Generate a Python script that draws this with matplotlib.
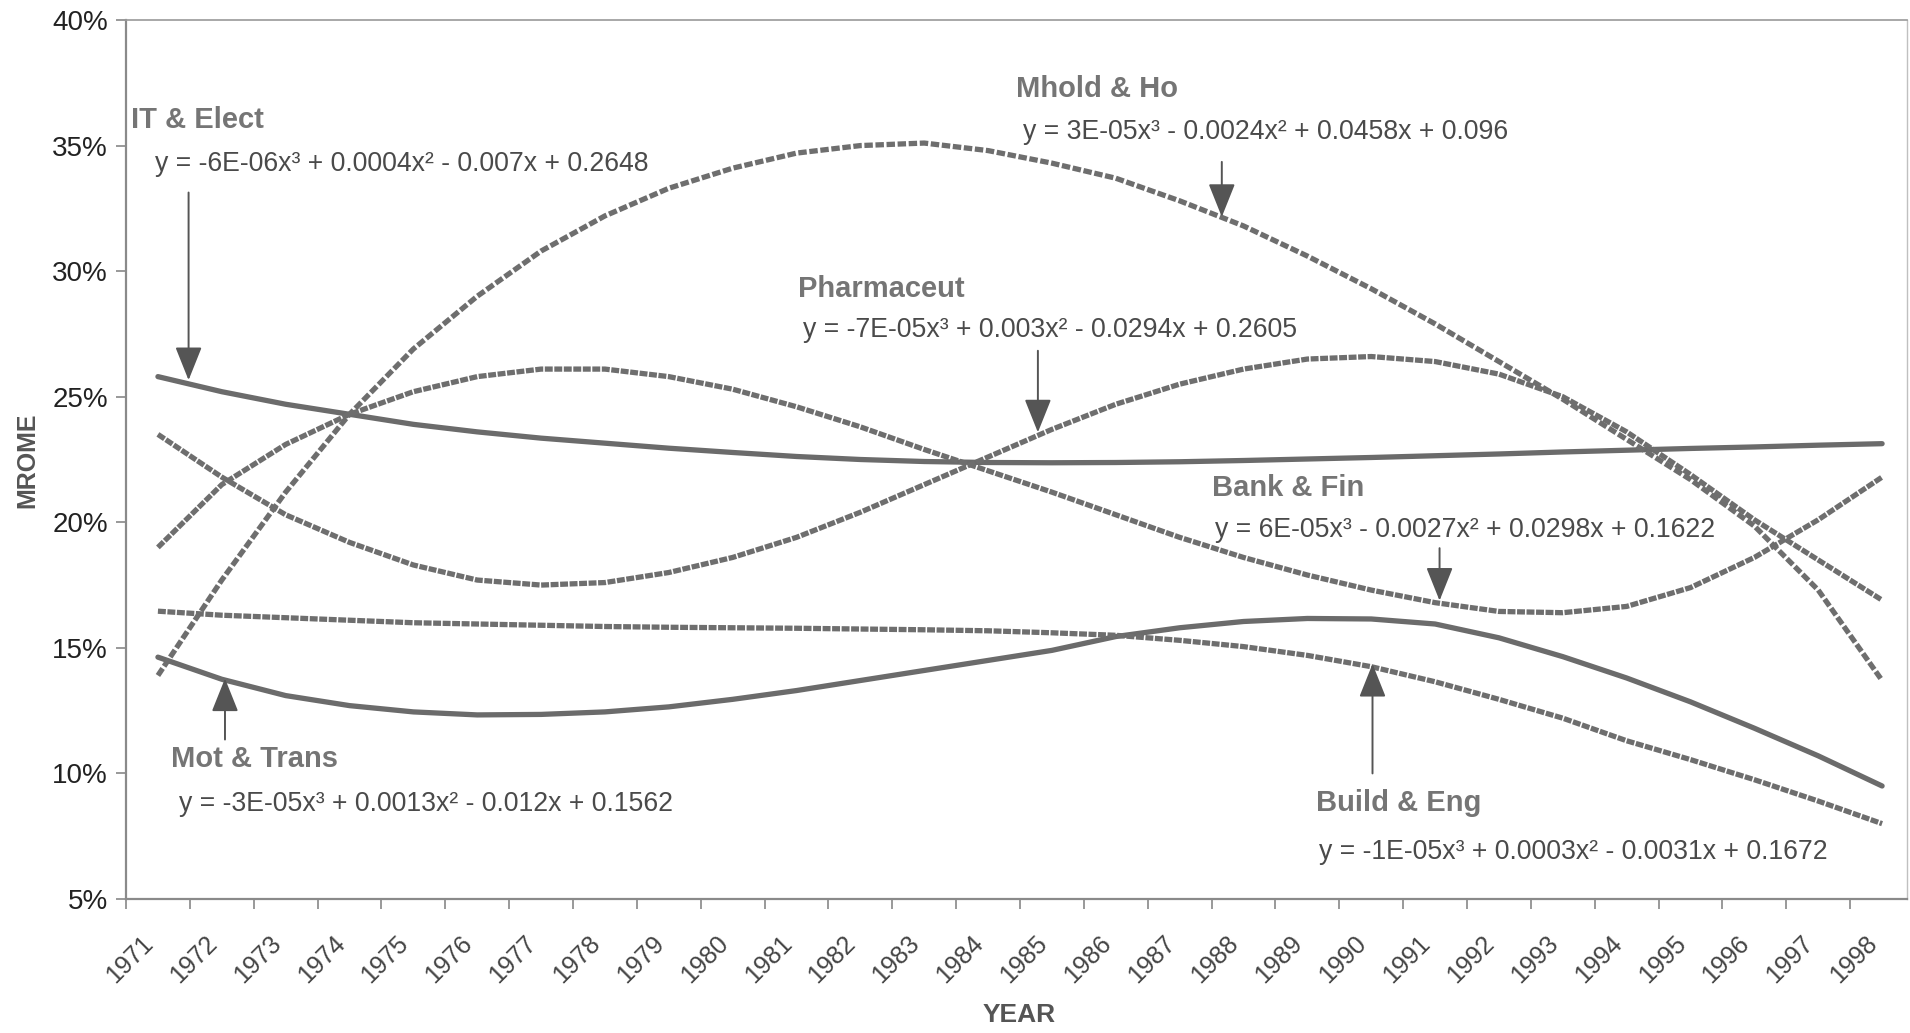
import numpy as np
import matplotlib
matplotlib.use('Agg')
import matplotlib.pyplot as plt
from matplotlib.transforms import ScaledTranslation

plt.rcParams['font.family'] = ['Liberation Sans', 'DejaVu Sans']

# values (percent)
years = list(range(1971, 1999))
it_elect = [25.8, 25.2, 24.7, 24.3, 23.9, 23.6, 23.35, 23.15, 22.95, 22.78, 22.62, 22.5, 22.42,
            22.38, 22.37, 22.38, 22.41, 22.46, 22.52, 22.58, 22.65, 22.72, 22.8, 22.87, 22.94,
            23.0, 23.07, 23.13]
mhold_ho = [13.9, 17.7, 21.2, 24.3, 26.9, 29.0, 30.8, 32.2, 33.3, 34.1, 34.7, 35.0, 35.1,
            34.8, 34.3, 33.7, 32.8, 31.8, 30.6, 29.3, 27.9, 26.4, 24.9, 23.3, 21.7, 19.85,
            17.3, 13.7]
pharmaceut = [23.5, 21.8, 20.3, 19.2, 18.3, 17.7, 17.5, 17.6, 18.0, 18.6, 19.4, 20.4, 21.5,
              22.6, 23.7, 24.7, 25.5, 26.1, 26.5, 26.6, 26.4, 25.9, 25.0, 23.6, 21.9, 20.1,
              18.5, 16.9]
bank_fin = [19.0, 21.5, 23.1, 24.3, 25.2, 25.8, 26.1, 26.1, 25.8, 25.3, 24.6, 23.8, 22.9,
            22.05, 21.2, 20.3, 19.4, 18.6, 17.9, 17.3, 16.8, 16.45, 16.4, 16.65, 17.4, 18.6,
            20.1, 21.8]
build_eng = [16.46, 16.3, 16.2, 16.1, 16.0, 15.95, 15.9, 15.85, 15.82, 15.8, 15.78, 15.75,
             15.72, 15.68, 15.6, 15.5, 15.3, 15.05, 14.7, 14.25, 13.65, 12.95, 12.2, 11.3,
             10.55, 9.75, 8.9, 8.0]
mot_trans = [14.63, 13.75, 13.1, 12.7, 12.45, 12.33, 12.35, 12.45, 12.65, 12.95, 13.3, 13.7,
             14.1, 14.5, 14.9, 15.45, 15.8, 16.05, 16.17, 16.15, 15.95, 15.4, 14.65, 13.8,
             12.85, 11.8, 10.7, 9.5]

names = ['IT & Elect', 'Mhold & Ho', 'Pharmaceut', 'Bank & Fin', 'Build & Eng', 'Mot & Trans']
equations = ['y = -6E-06x³ + 0.0004x² - 0.007x + 0.2648',
             'y = 3E-05x³ - 0.0024x² + 0.0458x + 0.096',
             'y = -7E-05x³ + 0.003x² - 0.0294x + 0.2605',
             'y = 6E-05x³ - 0.0027x² + 0.0298x + 0.1622',
             'y = -1E-05x³ + 0.0003x² - 0.0031x + 0.1672',
             'y = -3E-05x³ + 0.0013x² - 0.012x + 0.1562']

W, H = 1910, 1033
fig = plt.figure(figsize=(W / 100, H / 100), dpi=100)
ax = fig.add_axes([126 / W, 1 - 899 / H, (1907 - 126) / W, (899 - 20) / H])

x = np.arange(len(years))
line_col = '#6b6b6b'
ax.plot(x, it_elect, color=line_col, lw=3.8, solid_capstyle='round')
ax.plot(x, mot_trans, color=line_col, lw=3.8, solid_capstyle='round')
ax.plot(x, mhold_ho, color='#6e6e6e', lw=3.8, linestyle=(0, (1.6, 0.5)))
for s in (pharmaceut, bank_fin, build_eng):
    ax.plot(x, s, color='#6e6e6e', lw=3.8, linestyle=(0, (1.5, 0.3)))

ax.set_xlim(-0.5, 27.39)
ax.set_ylim(5, 40)
ax.set_yticks(range(5, 41, 5))
ax.set_yticklabels(['%d%%' % v for v in range(5, 41, 5)], fontsize=20, color='#222222')
ax.set_xticks(x)
ax.set_xticklabels([str(y) for y in years], rotation=45, ha='right', fontsize=18,
                   color='#444444')
shift = ScaledTranslation(-6 / 100, 0, fig.dpi_scale_trans)
for lab in ax.get_xticklabels():
    lab.set_transform(lab.get_transform() + shift)
ax.set_xticks(np.arange(-0.5, 27, 1), minor=True)
ax.tick_params(axis='x', which='major', length=0, pad=23)
ax.tick_params(axis='x', which='minor', length=7, width=1.2, color='#888888', direction='out')
ax.tick_params(axis='y', length=7, width=1.2, color='#888888', pad=6)

for side in ('left', 'bottom'):
    ax.spines[side].set_color('#8a8a8a')
    ax.spines[side].set_linewidth(1.6)
ax.spines['top'].set_color('#9a9a9a')
ax.spines['top'].set_linewidth(1.2)
ax.spines['right'].set_color('#c0c0c0')
ax.spines['right'].set_linewidth(1.0)

# label, equation and arrow positions in data units
lab_pos = [(-0.42, 36.0), (13.43, 37.26), (10.02, 29.3), (16.51, 21.35), (18.13, 8.83), (0.21, 10.58)]
eq_pos = [(-0.05, 34.25), (13.55, 35.56), (10.1, 27.65), (16.56, 19.7), (18.18, 6.89), (0.33, 8.78)]
arrows = [((0.48, 33.13), (0.48, 25.66)), ((16.66, 34.35), (16.66, 32.16)),
          ((13.78, 26.83), (13.78, 23.58)), ((20.07, 18.97), (20.07, 16.88)),
          ((19.02, 10.0), (19.02, 14.36)), ((1.05, 11.35), (1.05, 13.78))]

for name, eq, lp, ep, (tail, tip) in zip(names, equations, lab_pos, eq_pos, arrows):
    ax.text(lp[0], lp[1], name, fontsize=21, fontweight='bold', color='#757575',
            ha='left', va='center')
    ax.text(ep[0], ep[1], eq, fontsize=19.2, color='#4a4a4a', ha='left', va='center')
    ax.annotate('', xy=tip, xytext=tail,
                arrowprops=dict(arrowstyle='-|>,head_width=0.38,head_length=0.95',
                                mutation_scale=22, color='#555555', lw=1.4,
                                shrinkA=0, shrinkB=0))

fig.text(27 / W, 1 - 460 / H, 'MROME', rotation=90, fontsize=18, fontweight='bold',
         color='#555555', ha='center', va='center')
fig.text(1019 / W, 1 - 1015 / H, 'YEAR', fontsize=19, fontweight='bold',
         color='#555555', ha='center', va='center')

fig.savefig('out.png', dpi=100, facecolor='white')
